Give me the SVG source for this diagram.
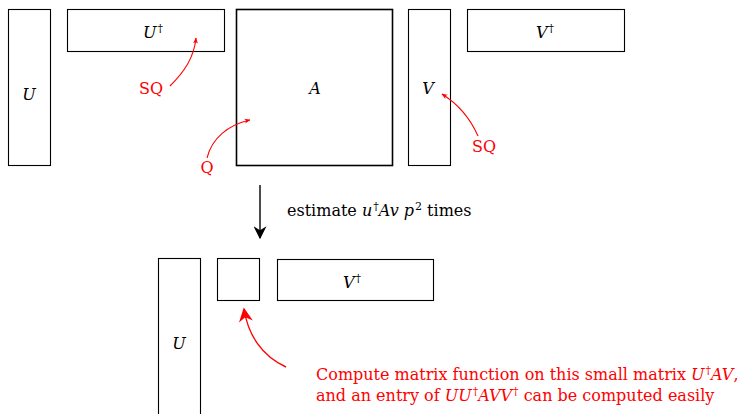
<svg xmlns="http://www.w3.org/2000/svg" width="739" height="414" viewBox="0 0 739 414">
<style>
.box{fill:none;stroke:#000;stroke-width:1.1}
.thick{fill:none;stroke:#000;stroke-width:1.6}
.m{font-style:italic}
.lbl{text-anchor:middle}
.red{fill:#ff0000}
.rc{fill:none;stroke:#ff0000;stroke-width:1.1}
</style>
<defs>
<marker id="sr" viewBox="0 0 10 10" refX="9" refY="5" markerWidth="6" markerHeight="6" orient="auto" markerUnits="userSpaceOnUse"><path d="M0,1 L10,5 L0,9 L2.5,5 Z" fill="#ff0000"/></marker>
<marker id="br" viewBox="0 0 10 10" refX="9" refY="5" markerWidth="18" markerHeight="14" orient="auto" markerUnits="userSpaceOnUse"><path d="M0,0 L10,5 L0,10 L3,5 Z" fill="#ff0000"/></marker>
<marker id="bk" viewBox="0 0 10 10" refX="9" refY="5" markerWidth="22" markerHeight="13" orient="auto" markerUnits="userSpaceOnUse"><path d="M0,0 L10,5 L0,10 L3,5 Z" fill="#000"/></marker>
</defs>
<g font-family="'DejaVu Serif', 'Liberation Serif', serif" font-size="16">
<g id="U"><rect class="box" x="8.5" y="9.5" width="42" height="156"/><text class="m lbl" x="29" y="100">U</text></g>
<g id="Udag"><rect class="box" x="67.5" y="9.5" width="157" height="42"/><text class="lbl" x="153" y="38"><tspan class="m">U</tspan><tspan font-size="11" dx="1" dy="-6">†</tspan></text></g>
<g id="A"><rect class="thick" x="236.5" y="9.5" width="156" height="156"/><text class="m lbl" x="315" y="94">A</text></g>
<g id="V"><rect class="box" x="408.5" y="9.5" width="42" height="156"/><text class="m lbl" x="428" y="94">V</text></g>
<g id="Vdag"><rect class="box" x="467.5" y="9.5" width="157" height="42"/><text class="lbl" x="545" y="38"><tspan class="m">V</tspan><tspan font-size="11" dx="1" dy="-6">†</tspan></text></g>
<g id="SQ1"><text class="red lbl" x="151" y="94">SQ</text></g>
<g id="Q"><text class="red lbl" x="207" y="173">Q</text></g>
<g id="SQ2"><text class="red lbl" x="484" y="152">SQ</text></g>
<g id="Ub"><rect class="box" x="158.5" y="258.5" width="42" height="160"/><text class="m lbl" x="179" y="349">U</text></g>
<g id="small"><rect class="box" x="217.5" y="258.5" width="42" height="42"/></g>
<g id="Vdagb"><rect class="box" x="277.5" y="259.5" width="156" height="41"/><text class="lbl" x="352" y="288"><tspan class="m">V</tspan><tspan font-size="11" dx="1" dy="-6">†</tspan></text></g>
<g id="step"><text x="287" y="216">estimate <tspan class="m">u</tspan><tspan font-size="11" dx="1" dy="-6">†</tspan><tspan dy="6" class="m">Av p</tspan><tspan font-size="11" dx="1" dy="-6">2</tspan><tspan dy="6"> times</tspan></text></g>
<g id="note" class="red">
<text x="316" y="380">Compute matrix function on this small matrix <tspan class="m">U</tspan><tspan font-size="11" dx="1" dy="-6">†</tspan><tspan dy="6" class="m">AV</tspan>,</text>
<text x="316" y="401">and an entry of <tspan class="m">UU</tspan><tspan font-size="11" dx="1" dy="-6">†</tspan><tspan dy="6" class="m">AVV</tspan><tspan font-size="11" dx="1" dy="-6">†</tspan><tspan dy="6"> can be computed easily</tspan></text>
</g>
</g>
<g id="connectors">
<path class="rc" d="M170,86 C184,72 194,58 196,38" marker-end="url(#sr)"/>
<path class="rc" d="M207,158 C212,138 228,125 250,120" marker-end="url(#sr)"/>
<path class="rc" d="M478,136 C470,118 458,104 442,94" marker-end="url(#sr)"/>
<path d="M260,185 L260,238" stroke="#000" stroke-width="1.4" fill="none" marker-end="url(#bk)"/>
<path d="M286,367 C262,356 248,335 244,309" stroke="#ff0000" stroke-width="1.4" fill="none" marker-end="url(#br)"/>
</g>
</svg>
